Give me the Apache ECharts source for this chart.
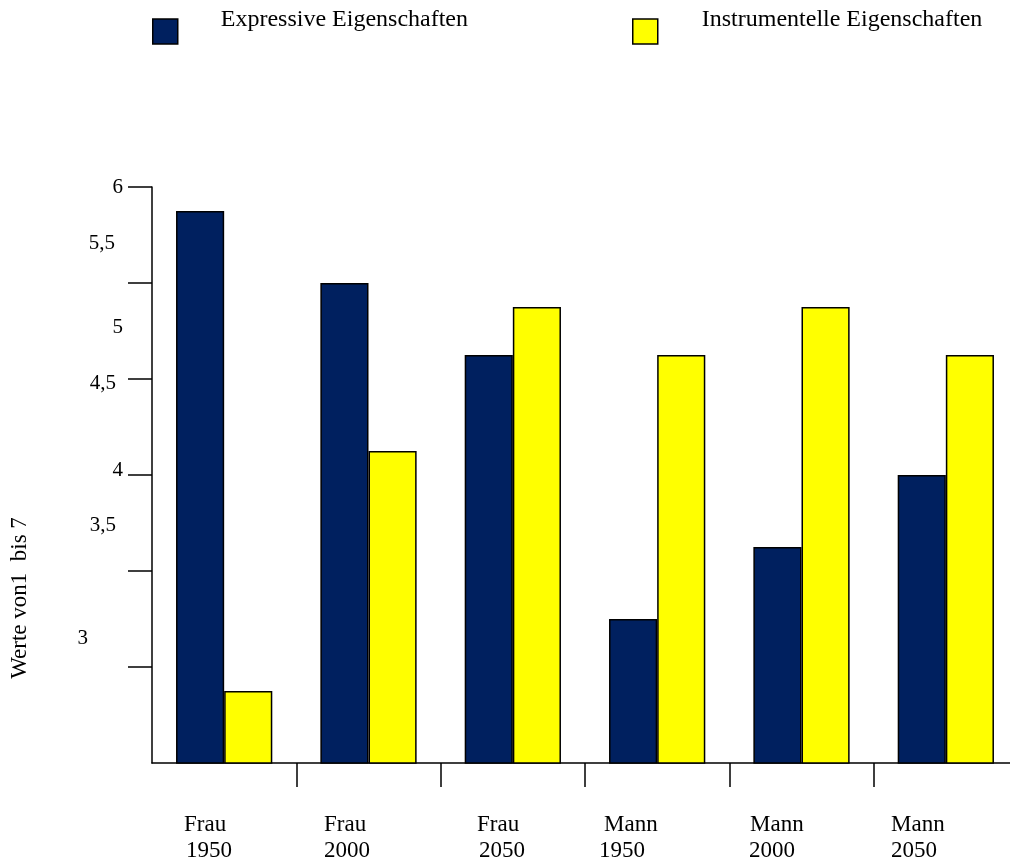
<!DOCTYPE html>
<html>
<head>
<meta charset="utf-8">
<script src="https://cdn.jsdelivr.net/npm/echarts@6/dist/echarts.min.js"></script>
<style>
  html, body { margin: 0; padding: 0; background: #fff; }
  #chart { width: 1010px; height: 861px; }
</style>
</head>
<body>
<div id="chart"></div>
<script>
// Categories: group (Frau / Mann) and year
const groups = ['Frau', 'Frau', 'Frau', 'Mann', 'Mann', 'Mann'];
const years = ['1950', '2000', '2050', '1950', '2000', '2050'];

// Series values (scale 1 to 7, axis shown from 3 to 6)
const expressive = [5.875, 5.5, 5.125, 3.75, 4.125, 4.5];
const instrumental = [3.375, 4.625, 5.375, 5.125, 5.375, 5.125];

// Value-axis tick labels
const yTickLabels = ['6', '5,5', '5', '4,5', '4', '3,5', '3'];

const seriesNames = ['Expressive Eigenschaften', 'Instrumentelle Eigenschaften'];
const NAVY = '#00205f';
const YELLOW = '#ffff00';
const FONT = '"Liberation Serif", "Times New Roman", serif';

// Placement of the free-standing tick labels (right edge, vertical centre)
const yLabelPos = [[123, 187], [115, 243], [123, 327], [116, 383], [123, 470], [116, 525], [88, 638]];
// Placement of category labels: left edge of first and second line
const xLabelPos = [[184, 186], [324, 324], [477, 479], [604, 599], [750, 749], [891, 891]];

const chart = echarts.init(document.getElementById('chart'), null, { renderer: 'canvas' });

const graphics = [];
yTickLabels.forEach((t, i) => {
  graphics.push({
    type: 'text', x: yLabelPos[i][0], y: yLabelPos[i][1],
    style: { text: t, font: '21px ' + FONT, fill: '#000', align: 'right', verticalAlign: 'middle' }
  });
});
groups.forEach((g, i) => {
  graphics.push({
    type: 'text', x: xLabelPos[i][0], y: 825,
    style: { text: g, font: '23px ' + FONT, fill: '#000', align: 'left', verticalAlign: 'middle' }
  });
  graphics.push({
    type: 'text', x: xLabelPos[i][1], y: 851,
    style: { text: years[i], font: '23px ' + FONT, fill: '#000', align: 'left', verticalAlign: 'middle' }
  });
});
graphics.push({
  type: 'text', x: 20, y: 598, rotation: Math.PI / 2,
  style: { text: 'Werte von1  bis 7', font: '23px ' + FONT, fill: '#000', align: 'center', verticalAlign: 'middle' }
});

// Legend text sits above the swatch centre: an empty second line lifts it
function legendText(pad) {
  return {
    fontFamily: FONT, fontSize: 24, color: '#000', padding: [0, 0, 0, pad],
    rich: {
      t: { fontFamily: FONT, fontSize: 24, lineHeight: 24, color: '#000' },
      s: { fontSize: 4, lineHeight: 23 }
    }
  };
}
const legendBase = {
  orient: 'horizontal', top: 3, itemWidth: 25, itemHeight: 25, icon: 'rect',
  itemStyle: { borderColor: '#000', borderWidth: 1.5 },
  formatter: (name) => '{t|' + name + '}\n{s| }',
  selectedMode: false
};

chart.setOption({
  animation: false,
  backgroundColor: '#fff',
  legend: [
    Object.assign({}, legendBase, { left: 147, data: [seriesNames[0]], textStyle: legendText(38) }),
    Object.assign({}, legendBase, { left: 627, data: [seriesNames[1]], textStyle: legendText(39) })
  ],
  grid: { left: 152, top: 187, bottom: 98, width: 866, containLabel: false, outerBoundsMode: 'none' },
  xAxis: {
    type: 'category',
    data: groups.map((g, i) => g + ' ' + years[i]),
    boundaryGap: true,
    axisLine: { lineStyle: { color: '#000', width: 1.5 } },
    axisTick: { show: true, length: 24, interval: (i) => i > 0, lineStyle: { color: '#000', width: 1.5 } },
    axisLabel: { show: false },
    splitLine: { show: false }
  },
  yAxis: {
    type: 'value', min: 3, max: 6, interval: 0.5,
    axisLine: { show: true, lineStyle: { color: '#000', width: 1.5 } },
    axisTick: { show: true, length: 24, customValues: [3.5, 4, 4.5, 5, 5.5, 6], lineStyle: { color: '#000', width: 1.5 } },
    axisLabel: { show: false },
    splitLine: { show: false }
  },
  series: [
    {
      name: seriesNames[0], type: 'bar', data: expressive,
      barGap: 0, barCategoryGap: '33.3%',
      itemStyle: { color: NAVY, borderColor: '#000', borderWidth: 1.5 }
    },
    {
      name: seriesNames[1], type: 'bar', data: instrumental,
      barGap: 0, barCategoryGap: '33.3%',
      itemStyle: { color: YELLOW, borderColor: '#000', borderWidth: 1.5 }
    }
  ],
  graphic: graphics
});
</script>
</body>
</html>
